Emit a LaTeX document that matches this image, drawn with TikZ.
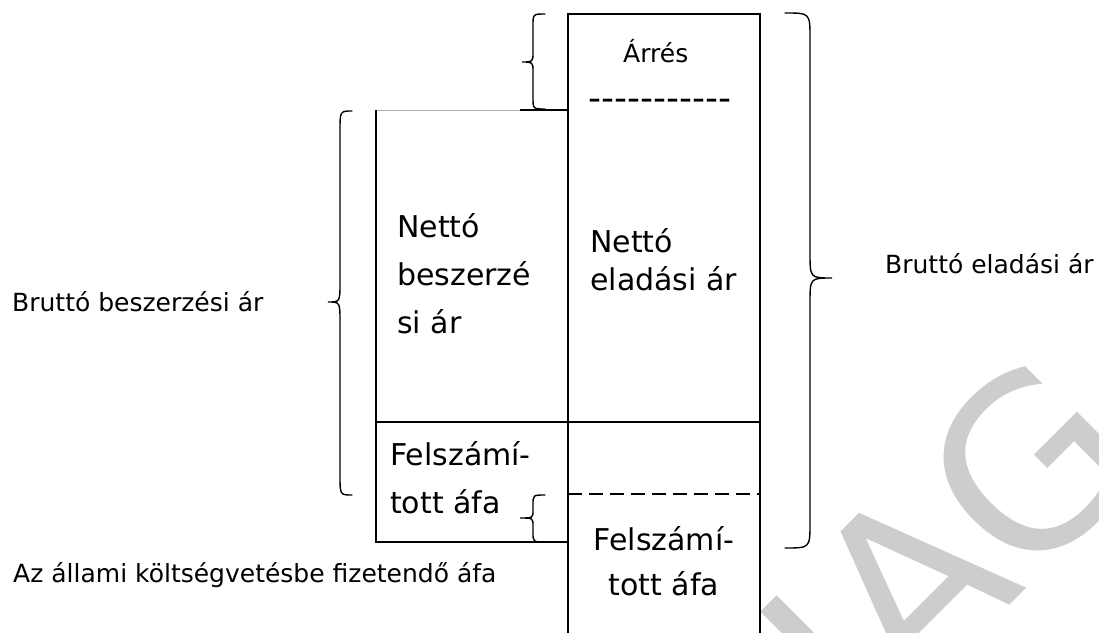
\documentclass[tikz,border=0pt]{standalone}
\usepackage{fontspec}
\setmainfont{DejaVu Sans}
\definecolor{wmgray}{HTML}{CDCDCD}
\definecolor{edgegray}{HTML}{B0B0B0}
\begin{document}
\begin{tikzpicture}[x=1pt,y=-1pt,
  boxline/.style={line width=1.4pt,black},
  braceline/.style={line width=1.4pt,black,line cap=round},
  small/.style={font=\fontsize{25}{30}\selectfont,inner sep=0pt,anchor=base west},
  big/.style={font=\fontsize{30}{36}\selectfont,inner sep=0pt,anchor=base west},
  bigc/.style={font=\fontsize{30}{36}\selectfont,inner sep=0pt,anchor=base}]
\useasboundingbox (0,0) rectangle (1099,632);
% watermark
\node[rotate=45,anchor=base west,inner sep=0pt,text=wmgray,
      font=\fontsize{235}{235}\selectfont] (wm) at (865,750) {IAG};
% right box
\coordinate (rtl) at (568,14); \coordinate (rtr) at (760,14);
\coordinate (rbl) at (568,640); \coordinate (rbr) at (760,640);
\draw[boxline] (rbl) -- (rtl) -- (rtr) -- (rbr);
\draw[boxline] (568,422) -- (760,422);
\draw[boxline,line width=1.2pt,dash pattern=on 14pt off 7pt] (568,494) -- (760,494);
% left box
\draw[edgegray,line width=0.8pt] (376,110) -- (568,110);
\draw[boxline] (520,110) -- (568,110);
\draw[boxline] (376,110) -- (376,542) -- (568,542);
\draw[boxline] (376,422) -- (568,422);
% braces
\draw[braceline] (545,14) .. controls (533,14) .. (533,26) -- (533,52)
  .. controls (533,62) .. (522,62) .. controls (533,62) .. (533,72) -- (533,97)
  .. controls (533,109) .. (545,109);
\draw[braceline] (352,111) .. controls (340,111) .. (340,131) -- (340,282)
  .. controls (340,302) .. (328,302) .. controls (340,302) .. (340,322) -- (340,475)
  .. controls (340,495) .. (352,495);
\draw[braceline] (785,13) .. controls (810,13) .. (810,38) -- (810,253)
  .. controls (810,278) .. (832,278) .. controls (810,278) .. (810,303) -- (810,523)
  .. controls (810,548) .. (785,548);
\draw[braceline] (545,495) .. controls (533,495) .. (533,505) -- (533,510)
  .. controls (533,518) .. (520,518) .. controls (533,518) .. (533,526) -- (533,532)
  .. controls (533,542) .. (545,542);
% texts
\node[small] (bba) at (12,311) {Bruttó beszerzési ár};
\node[small] (bea) at (885,273) {Bruttó eladási ár};
\node[small] (aka) at (13,582) {Az állami költségvetésbe fizetendő áfa};
\node[small] (arres) at (623,62) {Árrés};
\node[inner sep=0pt,anchor=base west,font=\fontsize{36}{40}\selectfont] (dash) at (588,110) {-{}-{}-{}-{}-{}-{}-{}-{}-{}-{}-};
\node[big] (nb1) at (397,237) {Nettó};
\node[big] (nb2) at (397,285) {beszerzé};
\node[big] (nb3) at (397,333) {si ár};
\node[big] (ne1) at (590,252) {Nettó};
\node[big] (ne2) at (590,290) {eladási ár};
\node[big] (fl1) at (390,465) {Felszámí-};
\node[big] (fl2) at (390,513) {tott áfa};
\node[bigc] (fr1) at (664,550) {Felszámí-};
\node[bigc] (fr2) at (664,595) {tott áfa};
\end{tikzpicture}
\end{document}
